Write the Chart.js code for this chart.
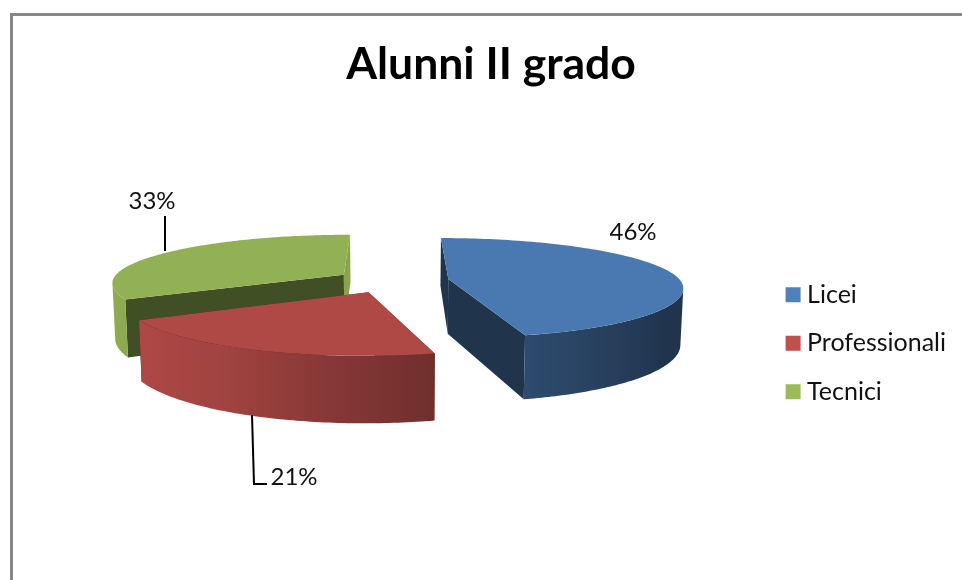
<!DOCTYPE html>
<html>
<head>
<meta charset="utf-8">
<style>html,body{margin:0;padding:0;background:#fff}canvas{display:block}</style>
<script src="https://cdn.jsdelivr.net/npm/chart.js@4/dist/chart.umd.min.js"></script>
</head>
<body>
<canvas id="c" width="962" height="580"></canvas>
<script>
const categories = ['Licei', 'Professionali', 'Tecnici'];
const seriesValues = [46, 21, 33];
const sliceColors = ['#4F81BD', '#C0504D', '#9BBB59'];
const titleText = 'Alunni II grado';

// 3D view of the pie (style only)
const view = {cx: 392, cy: 280.5, tiltFront: 0.216, tiltBack: 0.205, persp: 0.00065, depth: 55, shrink: 0.99, explode: 57, radius: 232};
const TOP_SHADE = [0.94, 0.91, 0.94];
const START_FACE = [0.4, 0.4, 0.42];
const END_FACE = [0.4, 0.4, 0.88];
const WALL_SHADE = [[35, 0.41], [75.6, 0.58], [95, 0.69], [120, 0.84], [151, 0.91], [180, 0.93]];
const LABEL_STYLE = [
  {x: 633, y: 232, lead: null},
  {x: 294, y: 477, lead: [[252, 415], [254, 484], [267, 484]]},
  {x: 152, y: 201, lead: [[165, 216], [165, 251]]}
];

function rgb(hex, f) {
  const n = parseInt(hex.slice(1), 16);
  return `rgb(${Math.round((n >> 16) * f)},${Math.round(((n >> 8) & 255) * f)},${Math.round((n & 255) * f)})`;
}
function project(u, v, low) {
  const s = 1 / (1 - v * view.persp);
  let x = view.cx + u * s, y = view.cy + v * (v < 0 ? view.tiltBack : view.tiltFront) * s;
  if (low) { x = view.cx + (x - view.cx) * view.shrink; y += view.depth * s; }
  return [x, y];
}
function wallShade(a) {
  const d = a * 180 / Math.PI;
  if (d <= WALL_SHADE[0][0]) return WALL_SHADE[0][1];
  for (let i = 1; i < WALL_SHADE.length; i++) {
    if (d <= WALL_SHADE[i][0]) {
      const [d0, s0] = WALL_SHADE[i - 1], [d1, s1] = WALL_SHADE[i];
      return s0 + (s1 - s0) * (d - d0) / (d1 - d0);
    }
  }
  return WALL_SHADE[WALL_SHADE.length - 1][1];
}
function poly(ctx, pts, fill) {
  ctx.beginPath();
  pts.forEach((p, i) => i ? ctx.lineTo(p[0], p[1]) : ctx.moveTo(p[0], p[1]));
  ctx.closePath();
  ctx.fillStyle = fill;
  ctx.fill();
}

const pie3d = {
  id: 'pie3d',
  beforeDraw(chart) {
    const ctx = chart.ctx;
    ctx.save();
    ctx.fillStyle = '#fff';
    ctx.fillRect(0, 0, chart.width, chart.height);
    ctx.fillStyle = '#878787';
    ctx.fillRect(10, 13, chart.width - 10, 3);
    ctx.fillRect(10, 13, 3, chart.height - 13);
    ctx.restore();
  },
  beforeDatasetDraw(chart, args) {
    const ctx = chart.ctx;
    const arcs = args.meta.data.map((el, i) => ({el, i}));
    arcs.sort((a, b) => Math.sin((a.el.startAngle + a.el.endAngle) / 2) - Math.sin((b.el.startAngle + b.el.endAngle) / 2));
    ctx.save();
    arcs.forEach(({el, i}) => {
      const base = el.options.backgroundColor;
      const mid = (el.startAngle + el.endAngle) / 2;
      const ex = Math.cos(mid) * view.explode, ey = Math.sin(mid) * view.explode;
      const R = el.outerRadius;
      const rim = (a, low) => project(ex + R * Math.cos(a), ey + R * Math.sin(a), low);
      const apex = low => project(ex, ey, low);
      // radial cut faces
      poly(ctx, [apex(false), rim(el.startAngle, false), rim(el.startAngle, true), apex(true)], rgb(base, START_FACE[i]));
      poly(ctx, [apex(false), rim(el.endAngle, false), rim(el.endAngle, true), apex(true)], rgb(base, END_FACE[i]));
      // outer wall: only between the silhouette points of the whole disc
      let right = 0, left = Math.PI, bestR = -1e9, bestL = 1e9;
      for (let k = -90; k <= 90; k += 0.5) {
        const a = k * Math.PI / 180, x = rim(a, false)[0];
        if (x > bestR) { bestR = x; right = a; }
        const b = (k + 180) * Math.PI / 180, y = rim(b, false)[0];
        if (y < bestL) { bestL = y; left = b; }
      }
      const from = Math.max(el.startAngle, right);
      const to = Math.min(el.endAngle, left);
      if (to > from) {
        const n = 80, up = [], down = [];
        for (let k = 0; k <= n; k++) {
          const a = from + (to - from) * k / n;
          up.push(rim(a, false));
          down.push(rim(a, true));
        }
        const xs = up.map(p => p[0]);
        const x0 = Math.min(...xs), x1 = Math.max(...xs);
        const g = ctx.createLinearGradient(x0, 0, x1, 0);
        for (let k = 0; k <= n; k++) {
          const a = from + (to - from) * k / n;
          g.addColorStop(Math.max(0, Math.min(1, (up[k][0] - x0) / (x1 - x0 || 1))), rgb(base, wallShade(a)));
        }
        poly(ctx, up.concat(down.reverse()), g);
      }
      // top face
      const top = [apex(false)];
      const n2 = 120;
      for (let k = 0; k <= n2; k++) top.push(rim(el.startAngle + (el.endAngle - el.startAngle) * k / n2, false));
      poly(ctx, top, rgb(base, TOP_SHADE[i]));
    });
    // leader lines and value labels
    const total = seriesValues.reduce((a, b) => a + b, 0);
    ctx.textAlign = 'center';
    ctx.textBaseline = 'middle';
    ctx.font = '24px Lato';
    seriesValues.forEach((v, i) => {
      const st = LABEL_STYLE[i];
      if (st.lead) {
        ctx.beginPath();
        st.lead.forEach((p, k) => k ? ctx.lineTo(p[0], p[1]) : ctx.moveTo(p[0], p[1]));
        ctx.strokeStyle = '#000';
        ctx.lineWidth = 2;
        ctx.stroke();
      }
      ctx.fillStyle = '#111';
      ctx.fillText(Math.round(v / total * 100) + '%', st.x, st.y);
    });
    ctx.restore();
    return false;
  }
};

new Chart(document.getElementById('c'), {
  type: 'pie',
  data: {
    labels: categories,
    datasets: [{data: seriesValues, backgroundColor: sliceColors, borderColor: sliceColors, borderWidth: 12}]
  },
  options: {
    responsive: false,
    animation: false,
    radius: view.radius,
    layout: {padding: {left: 26, top: 38, right: 6, bottom: 0}},
    plugins: {
      tooltip: {enabled: false},
      title: {
        display: true,
        text: titleText,
        color: '#000',
        font: {family: 'Lato', size: 44.5, weight: 'bold', lineHeight: 1.2},
        padding: {top: 0, bottom: 15}
      },
      legend: {
        position: 'right',
        fullSize: false,
        labels: {
          boxWidth: 3,
          boxHeight: 3,
          padding: 23.5,
          color: '#111',
          font: {family: 'Lato', size: 25}
        }
      }
    }
  },
  plugins: [pie3d]
});
</script>
</body>
</html>
